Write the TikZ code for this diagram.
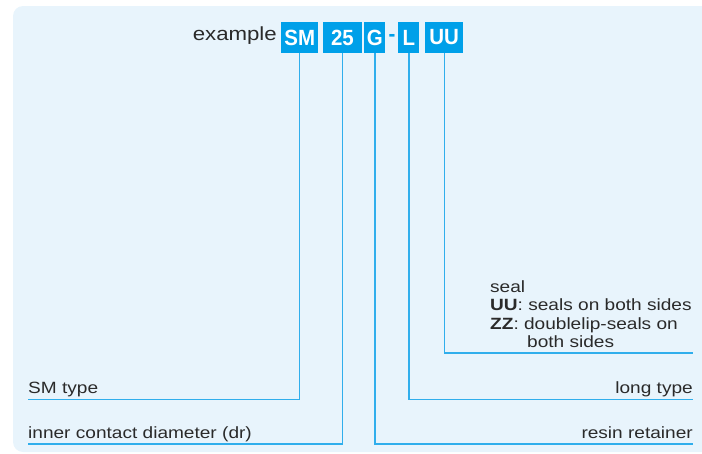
\documentclass[tikz,border=0pt]{standalone}
\usepackage{fontspec}
\setmainfont{Liberation Sans}[FakeStretch=1.17]
\newfontfamily\boxfont{Liberation Sans}[FakeStretch=0.93]
\definecolor{bgblue}{HTML}{E8F4FC}
\definecolor{boxblue}{HTML}{00A0E9}
\definecolor{lineblue}{HTML}{30AEEC}
\definecolor{txt}{HTML}{2A2A2A}
\begin{document}
\begin{tikzpicture}[x=1pt,y=-1pt,
  codebox/.style={fill=boxblue, text=white, inner sep=0pt, minimum height=31pt, font=\boxfont\fontsize{22}{22}\selectfont\bfseries},
  lbl/.style={inner sep=0pt, text=txt, font=\fontsize{16.3}{18.3}\selectfont},
  conn/.style={draw=lineblue, line width=1.4pt}
]
\useasboundingbox (0,0) rectangle (702,453);
\fill[bgblue, rounded corners=10pt] (13,6) rectangle (712,452);

\node[inner sep=0pt, anchor=base east, text=txt, font=\fontsize{19}{19}\selectfont] (ex) at (277,40) {example};
\node[codebox, minimum width=37pt] (sm) at (299.7,37.5) {SM};
\node[codebox, minimum width=39pt] (n25) at (342.5,37.5) {25};
\node[codebox, minimum width=21pt] (g) at (374.8,37.5) {G};
\node[inner sep=0pt, text=boxblue, font=\boxfont\fontsize{22}{22}\selectfont\bfseries] (dash) at (392,37.5) {-};
\node[codebox, minimum width=21pt] (l) at (408.8,37.5) {L};
\node[codebox, minimum width=38pt] (uu) at (444.2,37.5) {UU};

\coordinate (smend) at (28,399.5);
\coordinate (dend) at (28,444);
\coordinate (gend) at (693,444);
\coordinate (lend) at (693,399.5);
\coordinate (uuend) at (693,353);

\draw[conn] (sm.south) |- (smend);
\draw[conn] (n25.south) |- (dend);
\draw[conn] (g.south) |- (gend);
\draw[conn] (l.south) |- (lend);
\draw[conn] (uu.south) |- (uuend);

\node[lbl, anchor=base west] (smt) at (28,393) {SM type};
\node[lbl, anchor=base west] (icd) at (28,438) {inner contact diameter (dr)};
\node[lbl, anchor=base east] (lt) at (693,393) {long type};
\node[lbl, anchor=base east] (rr) at (693,438) {resin retainer};
\node[lbl, anchor=base west] (s1) at (490,292) {seal};
\node[lbl, anchor=base west] (s2) at (490,310.5) {\textbf{UU}: seals on both sides};
\node[lbl, anchor=base west] (s3) at (490,329) {\textbf{ZZ}: doublelip-seals on};
\node[lbl, anchor=base west] (s4) at (527,347) {both sides};
\end{tikzpicture}
\end{document}
